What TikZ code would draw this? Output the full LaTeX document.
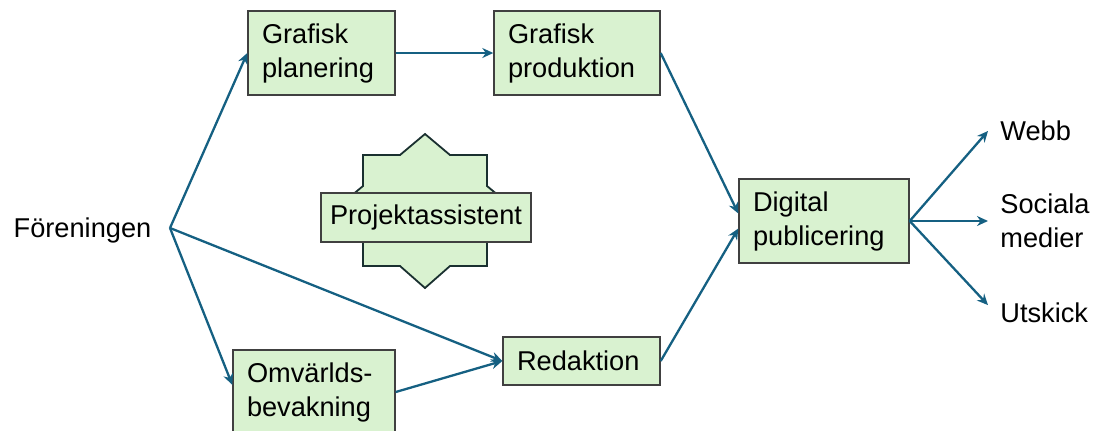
\documentclass[tikz,border=0pt]{standalone}
\usepackage{fontspec}
\setmainfont{Liberation Sans}
\usetikzlibrary{arrows.meta}
\definecolor{boxgreen}{HTML}{D9F2D0}
\definecolor{boxline}{HTML}{404040}
\definecolor{starline}{HTML}{1A3030}
\definecolor{flowblue}{HTML}{156082}
\tikzset{
  flowbox/.style={draw=boxline, fill=boxgreen, line width=0.7pt, align=left, inner xsep=7pt, minimum height=42pt},
  flowarrow/.style={draw=flowblue, line width=1.15pt, -{Stealth[length=5.5pt,width=5pt]}},
  plainlabel/.style={align=left, inner xsep=6pt, inner ysep=3pt}
}

\begin{document}
\begin{tikzpicture}[x=0.5pt, y=-0.5pt, font=\fontsize{13.6}{17}\selectfont]
    \useasboundingbox (0,0) rectangle (1099,430);
    % star behind the assistant box
    \filldraw[fill=boxgreen, draw=starline, line width=0.9pt] (425,134) -- (450,155) -- (487,155) -- (487,186) -- (517,211) -- (487,236) -- (487,266) -- (450,266) -- (425,288) -- (400,266) -- (363,266) -- (363,236) -- (333,211) -- (363,186) -- (363,155) -- (400,155) -- cycle;
    \node[flowbox, minimum width=105pt, minimum height=24.5pt, align=center, inner xsep=3pt] (projekt) at (426,217.5) {Projektassistent};

    \node[flowbox, text width=59.5pt] (planering) at (321.5,53) {Grafisk\\planering};
    \node[flowbox, text width=69pt] (produktion) at (577,53) {Grafisk\\produktion};
    \node[flowbox, text width=71pt] (digital) at (824,221) {Digital\\publicering};
    \node[flowbox, text width=64.5pt, minimum height=24pt] (redaktion) at (581.5,361) {Redaktion};
    \node[flowbox, text width=67pt] (omvarld) at (314,392) {Omvärlds-\\bevakning};

    \node[plainlabel] (foreningen) at (82.5,230) {Föreningen};
    \coordinate (hub) at (170,228);
    \node[plainlabel, anchor=west] (webb) at (988,131) {Webb};
    \node[plainlabel, anchor=west] (sociala) at (988,221) {Sociala\\medier};
    \node[plainlabel, anchor=west] (utskick) at (988,313) {Utskick};

    \draw[flowarrow] (hub) -- (planering.west);
    \draw[flowarrow] (hub) -- (omvarld.175);
    \draw[flowarrow] (hub) -- (redaktion.west);
    \draw[flowarrow] (omvarld.east) -- (redaktion.west);
    \draw[flowarrow] (planering.east) -- (produktion.west);
    \draw[flowarrow] (produktion.east) -- (digital.175);
    \draw[flowarrow] (redaktion.east) -- (digital.185);
    \draw[flowarrow] (digital.east) -- (webb.west);
    \draw[flowarrow] (digital.east) -- (sociala.west);
    \draw[flowarrow] (digital.east) -- (utskick.172);
\end{tikzpicture}
\end{document}
